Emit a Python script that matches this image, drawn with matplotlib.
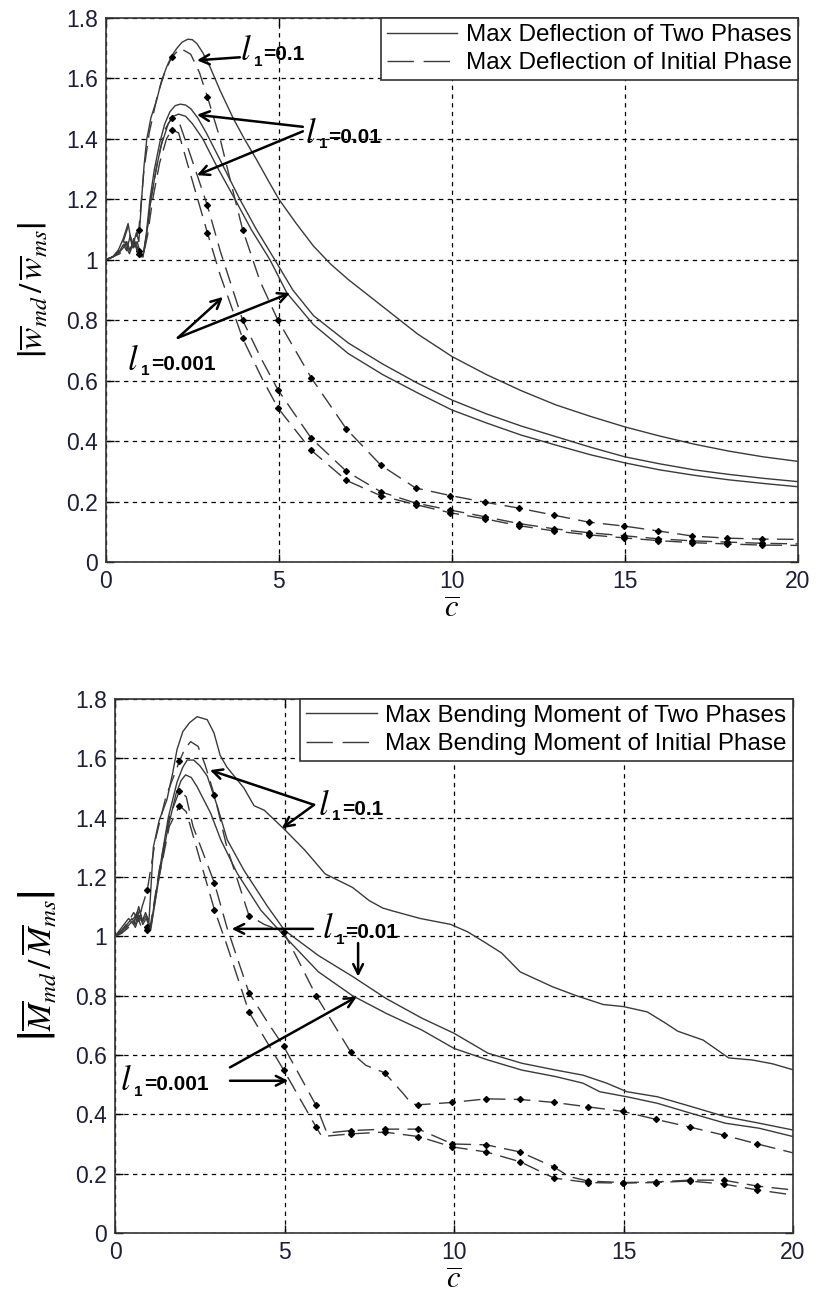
import numpy as np
import matplotlib.pyplot as plt
from matplotlib.lines import Line2D

plt.rcParams["font.family"] = ["Liberation Sans", "DejaVu Sans"]
plt.rcParams["mathtext.fontset"] = "stix"

# points of the dashed (initial phase) curves that carry a marker
MARK_X = [0.95, 1.9, 2.93, 3.95, 4.97, 5.93, 6.95, 7.95, 8.95, 9.95, 10.95,
          11.95, 12.95, 13.95, 14.97, 15.95, 16.95, 17.95, 18.95]

# ---- deflection, two phases (solid) ----
w2_01_x = [0, 0.2, 0.35, 0.5, 0.64, 0.76, 0.88, 0.95, 1.03, 1.1, 1.18, 1.3, 1.47, 1.6, 1.76, 1.9, 2.05,
           2.2, 2.37, 2.5, 2.63, 2.8, 3.0, 3.3, 3.67, 4.0, 4.36, 4.7, 5.0, 5.5, 6.0, 6.5, 7.0, 7.5, 8.0,
           9.0, 10, 11, 12, 13, 14, 15, 16, 17, 18, 19, 20]
w2_01_y = [1.0, 1.01, 1.03, 1.07, 1.12, 1.04, 1.09, 1.06, 1.20, 1.31, 1.40, 1.47, 1.53, 1.59, 1.64, 1.675,
           1.70, 1.72, 1.73, 1.728, 1.715, 1.685, 1.64, 1.56, 1.47, 1.40, 1.33, 1.26, 1.20, 1.12, 1.045,
           0.985, 0.935, 0.89, 0.845, 0.755, 0.68, 0.62, 0.567, 0.52, 0.482, 0.447, 0.417, 0.39, 0.367,
           0.348, 0.333]
w2_001_x = [0, 0.2, 0.35, 0.5, 0.6, 0.7, 0.8, 0.9, 1.0, 1.07, 1.17, 1.27, 1.4, 1.56, 1.7, 1.85, 2.0, 2.15,
            2.3, 2.45, 2.65, 2.9, 3.3, 3.87, 4.35, 4.88, 5.4, 6, 7, 8, 9, 10, 11, 12, 13, 14, 15, 16, 17,
            18, 19, 20]
w2_001_y = [1.0, 1.01, 1.02, 1.05, 1.03, 1.08, 1.04, 1.06, 1.02, 1.01, 1.09, 1.2, 1.30, 1.39, 1.45, 1.49,
            1.51, 1.515, 1.512, 1.50, 1.47, 1.42, 1.33, 1.2, 1.10, 1.0, 0.90, 0.815, 0.725, 0.655, 0.592,
            0.536, 0.49, 0.45, 0.415, 0.38, 0.348, 0.325, 0.305, 0.29, 0.277, 0.266]
w2_0001_x = [0, 0.2, 0.35, 0.5, 0.6, 0.7, 0.8, 0.9, 1.0, 1.07, 1.17, 1.3, 1.45, 1.6, 1.8, 1.95, 2.1, 2.3,
             2.5, 2.8, 3.2, 3.73, 4.2, 4.74, 5.23, 6, 7, 8, 9, 10, 11, 12, 13, 14, 15, 16, 17, 18, 19, 20]
w2_0001_y = [1.0, 1.01, 1.02, 1.04, 1.06, 1.03, 1.07, 1.03, 1.01, 1.01, 1.08, 1.2, 1.30, 1.38, 1.45, 1.475,
             1.482, 1.475, 1.45, 1.40, 1.31, 1.2, 1.10, 1.0, 0.89, 0.785, 0.69, 0.62, 0.56, 0.503, 0.46,
             0.42, 0.387, 0.355, 0.328, 0.305, 0.287, 0.272, 0.26, 0.249]

# ---- deflection, initial phase (dashed) ----
w1_01_x = [0, 0.2, 0.35, 0.5, 0.64, 0.78, 0.95, 1.1, 1.25, 1.5, 1.7, 1.9, 2.15, 2.45, 2.7, 2.93, 3.3, 3.6,
           3.95, 4.45, 4.97, 5.93, 6.95, 7.95, 8.95, 9.95, 10.95, 11.95, 12.95, 13.95, 14.97, 15.95,
           16.95, 17.95, 18.95, 20]
w1_01_y = [1.0, 1.01, 1.03, 1.06, 1.11, 1.04, 1.10, 1.30, 1.42, 1.55, 1.62, 1.67, 1.70, 1.68, 1.62, 1.54,
           1.40, 1.26, 1.10, 0.93, 0.80, 0.61, 0.44, 0.32, 0.245, 0.22, 0.198, 0.178, 0.155, 0.132,
           0.119, 0.103, 0.086, 0.079, 0.076, 0.075]
w1_001_x = [0, 0.2, 0.4, 0.55, 0.68, 0.8, 0.95, 1.07, 1.17, 1.3, 1.5, 1.7, 1.9, 2.1, 2.4, 2.93, 3.3, 3.95,
            4.5, 4.97, 5.93, 6.95, 7.95, 8.95, 9.95, 10.95, 11.95, 12.95, 13.95, 14.97, 15.95, 16.95,
            17.95, 18.95, 20]
w1_001_y = [1.0, 1.01, 1.03, 1.06, 1.03, 1.07, 1.03, 1.01, 1.08, 1.2, 1.33, 1.43, 1.47, 1.46, 1.36, 1.18,
            1.03, 0.80, 0.67, 0.57, 0.41, 0.30, 0.232, 0.195, 0.172, 0.15, 0.127, 0.11, 0.097, 0.087,
            0.077, 0.07, 0.066, 0.062, 0.06]
w1_0001_x = [0, 0.2, 0.4, 0.55, 0.68, 0.8, 0.95, 1.07, 1.2, 1.35, 1.55, 1.75, 1.9, 2.1, 2.4, 2.93, 3.3,
             3.95, 4.5, 4.97, 5.93, 6.95, 7.95, 8.95, 9.95, 10.95, 11.95, 12.95, 13.95, 14.97, 15.95,
             16.95, 17.95, 18.95, 20]
w1_0001_y = [1.0, 1.01, 1.02, 1.05, 1.02, 1.06, 1.02, 1.01, 1.08, 1.2, 1.32, 1.40, 1.43, 1.42, 1.30, 1.09,
             0.95, 0.74, 0.61, 0.51, 0.37, 0.27, 0.219, 0.19, 0.163, 0.143, 0.12, 0.103, 0.09, 0.08,
             0.071, 0.064, 0.06, 0.056, 0.055]

# ---- bending moment, two phases (solid) ----
m2_01_x = [0, 0.2, 0.4, 0.55, 0.7, 0.8, 0.9, 1.0, 1.13, 1.3, 1.53, 1.7, 1.83, 2.0, 2.2, 2.42, 2.72, 2.92,
           3.1, 3.3, 3.55, 3.8, 4.1, 4.4, 5.0, 5.6, 6.2, 7.0, 7.5, 7.9, 8.2, 9.0, 9.9, 10.4, 10.9, 11.4,
           11.95, 12.9, 13.6, 14.4, 15.0, 15.7, 16.2, 16.6, 17.35, 18.1, 18.8, 19.4, 20]
m2_01_y = [1.0, 1.03, 1.06, 1.04, 1.10, 1.05, 1.08, 1.05, 1.30, 1.39, 1.46, 1.55, 1.63, 1.69, 1.72, 1.74,
           1.73, 1.685, 1.61, 1.57, 1.535, 1.50, 1.44, 1.425, 1.36, 1.29, 1.21, 1.165, 1.12, 1.095, 1.085,
           1.06, 1.04, 1.015, 0.98, 0.944, 0.88, 0.83, 0.80, 0.77, 0.763, 0.745, 0.71, 0.68, 0.65, 0.59,
           0.583, 0.57, 0.55]
m2_001_x = [0, 0.2, 0.35, 0.5, 0.6, 0.72, 0.82, 0.92, 1.05, 1.33, 1.57, 1.83, 2.0, 2.13, 2.32, 2.5, 2.72,
            3.02, 3.31, 3.8, 4.5, 5.0, 6, 7, 8, 9.05, 10, 11, 12, 13, 13.8, 14.5, 15.1, 16, 17, 18, 19, 20]
m2_001_y = [1.0, 1.02, 1.04, 1.06, 1.04, 1.09, 1.05, 1.07, 1.03, 1.235, 1.40, 1.52, 1.57, 1.594, 1.594,
            1.575, 1.54, 1.437, 1.325, 1.223, 1.10, 1.02, 0.935, 0.865, 0.79, 0.724, 0.673, 0.606, 0.572,
            0.549, 0.532, 0.505, 0.476, 0.459, 0.426, 0.392, 0.37, 0.347]
m2_0001_x = [0, 0.2, 0.35, 0.5, 0.6, 0.72, 0.82, 0.92, 1.05, 1.3, 1.55, 1.8, 1.95, 2.08, 2.25, 2.42, 2.82,
             3.12, 3.6, 4.3, 5.0, 6, 7, 8, 9.05, 10, 11, 12, 13, 13.8, 14.3, 15.1, 16, 17, 18, 19, 20]
m2_0001_y = [1.0, 1.01, 1.03, 1.05, 1.03, 1.07, 1.04, 1.06, 1.02, 1.2, 1.36, 1.48, 1.525, 1.544, 1.535,
             1.504, 1.415, 1.325, 1.213, 1.088, 1.0, 0.88, 0.80, 0.74, 0.684, 0.622, 0.583, 0.549, 0.527,
             0.505, 0.476, 0.459, 0.437, 0.403, 0.37, 0.353, 0.325]

# ---- bending moment, initial phase (dashed) ----
m1_01_x = [0, 0.2, 0.4, 0.55, 0.7, 0.8, 0.95, 1.2, 1.5, 1.9, 2.05, 2.23, 2.45, 2.65, 2.93, 3.3, 3.95, 4.4,
           4.97, 5.4, 5.93, 6.95, 7.4, 7.95, 8.5, 8.75, 8.95, 9.95, 10.95, 11.95, 12.95, 13.95, 14.97,
           15.95, 16.95, 17.95, 18.95, 20]
m1_01_y = [1.0, 1.02, 1.05, 1.08, 1.05, 1.10, 1.155, 1.33, 1.47, 1.59, 1.63, 1.656, 1.64, 1.58, 1.476,
           1.30, 1.07, 1.04, 1.015, 0.92, 0.80, 0.61, 0.565, 0.54, 0.47, 0.435, 0.432, 0.44, 0.452, 0.45,
           0.44, 0.425, 0.41, 0.383, 0.357, 0.33, 0.30, 0.27]
m1_001_x = [0, 0.3, 0.5, 0.65, 0.78, 0.95, 1.05, 1.3, 1.6, 1.9, 2.1, 2.3, 2.6, 2.93, 3.3, 3.95, 4.5, 4.97,
            5.93, 6.25, 6.95, 7.95, 8.95, 9.95, 10.95, 11.95, 12.95, 13.4, 13.95, 14.97, 15.95, 16.95,
            17.95, 18.95, 20]
m1_001_y = [1.0, 1.03, 1.05, 1.08, 1.04, 1.03, 1.04, 1.22, 1.40, 1.49, 1.47, 1.37, 1.28, 1.18, 1.03, 0.81,
            0.71, 0.63, 0.43, 0.337, 0.345, 0.35, 0.35, 0.30, 0.297, 0.273, 0.222, 0.19, 0.175, 0.17,
            0.172, 0.178, 0.178, 0.158, 0.145]
m1_0001_x = [0, 0.3, 0.5, 0.65, 0.78, 0.95, 1.05, 1.3, 1.6, 1.9, 2.1, 2.4, 2.93, 3.3, 3.95, 4.5, 4.97,
             5.93, 6.1, 6.95, 7.95, 8.95, 9.95, 10.95, 11.95, 12.95, 13.95, 14.97, 15.95, 16.95, 17.95,
             18.95, 20]
m1_0001_y = [1.0, 1.02, 1.04, 1.07, 1.03, 1.02, 1.03, 1.2, 1.37, 1.44, 1.42, 1.30, 1.09, 0.97, 0.745,
             0.64, 0.55, 0.357, 0.325, 0.334, 0.34, 0.325, 0.29, 0.273, 0.24, 0.185, 0.17, 0.168, 0.17,
             0.175, 0.165, 0.145, 0.128]

x_ticks = [0, 5, 10, 15, 20]
y_ticks = [0, 0.2, 0.4, 0.6, 0.8, 1.0, 1.2, 1.4, 1.6, 1.8]

LINE = "#3a3a3a"
TICK_TXT = "#1e1e3c"
CURVE_DASH = (12, 6)


def solid(ax, x, y):
    ax.plot(x, y, color=LINE, lw=1.0, zorder=3)


def dashed(ax, x, y):
    marks = [i for i, v in enumerate(x) if any(abs(v - m) < 1e-6 for m in MARK_X)]
    ax.plot(x, y, color=LINE, lw=1.0, dashes=CURVE_DASH, marker="D", ms=3,
            markevery=marks, mfc="k", mec="k", zorder=3)


def arrow(ax, tail, head):
    ax.annotate("", xy=head, xytext=tail,
                arrowprops=dict(arrowstyle="->,head_length=0.7,head_width=0.35",
                                color="k", lw=1.8, shrinkA=0, shrinkB=0),
                zorder=5)


def l1_label(ax, x, y, value):
    # script l, small lowered 1, then "=value"
    ax.text(x, y, r"$\mathit{l}$", fontsize=25, va="baseline", zorder=6)
    ax.annotate("1", xy=(x, y), xytext=(10, -4), textcoords="offset points",
                fontsize=11, fontweight="bold", va="baseline", zorder=6)
    ax.annotate("=" + value, xy=(x, y), xytext=(17, 0), textcoords="offset points",
                fontsize=15, fontweight="bold", va="baseline", zorder=6)


def style_axes(ax, ylabel):
    ax.set_xlim(0, 20)
    ax.set_ylim(0, 1.8)
    ax.set_xticks(x_ticks)
    ax.set_yticks(y_ticks)
    ax.set_xticklabels([f"{v:g}" for v in x_ticks])
    ax.set_yticklabels([f"{v:g}" for v in y_ticks])
    ax.tick_params(direction="in", top=True, right=True, length=6, width=1,
                   labelsize=16.5, labelcolor=TICK_TXT, pad=6)
    ax.grid(True, color="k", lw=0.9, linestyle=(0, (3.5, 3.5)))
    ax.set_axisbelow(True)
    for s in ax.spines.values():
        s.set_linewidth(1.2)
        s.set_color("#333333")
    ax.set_xlabel(r"$\overline{c}$", fontsize=22, labelpad=1)
    ax.set_ylabel(ylabel, fontsize=24, labelpad=12)


def legend(ax, labels):
    handles = [Line2D([], [], color=LINE, lw=1.0),
               Line2D([], [], color=LINE, lw=1.0, dashes=(19, 7))]
    leg = ax.legend(handles, labels, loc="upper right", fontsize=17.5, frameon=True,
                    fancybox=False, framealpha=1, edgecolor="#333333", borderaxespad=0,
                    borderpad=0.25, labelspacing=0.25, handlelength=2.9, handletextpad=0.35)
    leg.get_frame().set_linewidth(1.2)
    leg.set_zorder(10)


fig = plt.figure(figsize=(8.17, 12.95), dpi=100)

# ---------------- deflection ----------------
ax1 = fig.add_axes([0.1297, 0.5660, 0.8470, 0.4201])
solid(ax1, w2_01_x, w2_01_y)
solid(ax1, w2_001_x, w2_001_y)
solid(ax1, w2_0001_x, w2_0001_y)
dashed(ax1, w1_01_x, w1_01_y)
dashed(ax1, w1_001_x, w1_001_y)
dashed(ax1, w1_0001_x, w1_0001_y)
style_axes(ax1, r"$\left|\overline{w}_{md}\,/\,\overline{w}_{ms}\right|$")
legend(ax1, ["Max Deflection of Two Phases", "Max Deflection of Initial Phase"])

l1_label(ax1, 3.87, 1.66, "0.1")
arrow(ax1, (3.87, 1.67), (2.63, 1.66))
l1_label(ax1, 5.75, 1.387, "0.01")
arrow(ax1, (5.69, 1.44), (2.63, 1.48))
arrow(ax1, (5.69, 1.425), (2.63, 1.28))
l1_label(ax1, 0.61, 0.636, "0.001")
arrow(ax1, (2.08, 0.742), (3.38, 0.877))
arrow(ax1, (2.08, 0.742), (5.32, 0.89))

# ---------------- bending moment ----------------
ax2 = fig.add_axes([0.1408, 0.0479, 0.8299, 0.4124])
solid(ax2, m2_01_x, m2_01_y)
solid(ax2, m2_001_x, m2_001_y)
solid(ax2, m2_0001_x, m2_0001_y)
dashed(ax2, m1_01_x, m1_01_y)
dashed(ax2, m1_001_x, m1_001_y)
dashed(ax2, m1_0001_x, m1_0001_y)
style_axes(ax2, r"$\left|\overline{M}_{md}\,/\,\overline{M}_{ms}\right|$")
legend(ax2, ["Max Bending Moment of Two Phases", "Max Bending Moment of Initial Phase"])

l1_label(ax2, 5.99, 1.409, "0.1")
arrow(ax2, (5.87, 1.443), (2.80, 1.56))
arrow(ax2, (5.87, 1.443), (4.92, 1.364))
l1_label(ax2, 6.1, 0.994, "0.01")
arrow(ax2, (5.84, 1.025), (3.44, 1.025))
arrow(ax2, (7.17, 0.977), (7.17, 0.864))
l1_label(ax2, 0.15, 0.482, "0.001")
arrow(ax2, (3.39, 0.558), (7.13, 0.796))
arrow(ax2, (3.39, 0.513), (5.11, 0.513))

fig.savefig("out.png", dpi=100)
